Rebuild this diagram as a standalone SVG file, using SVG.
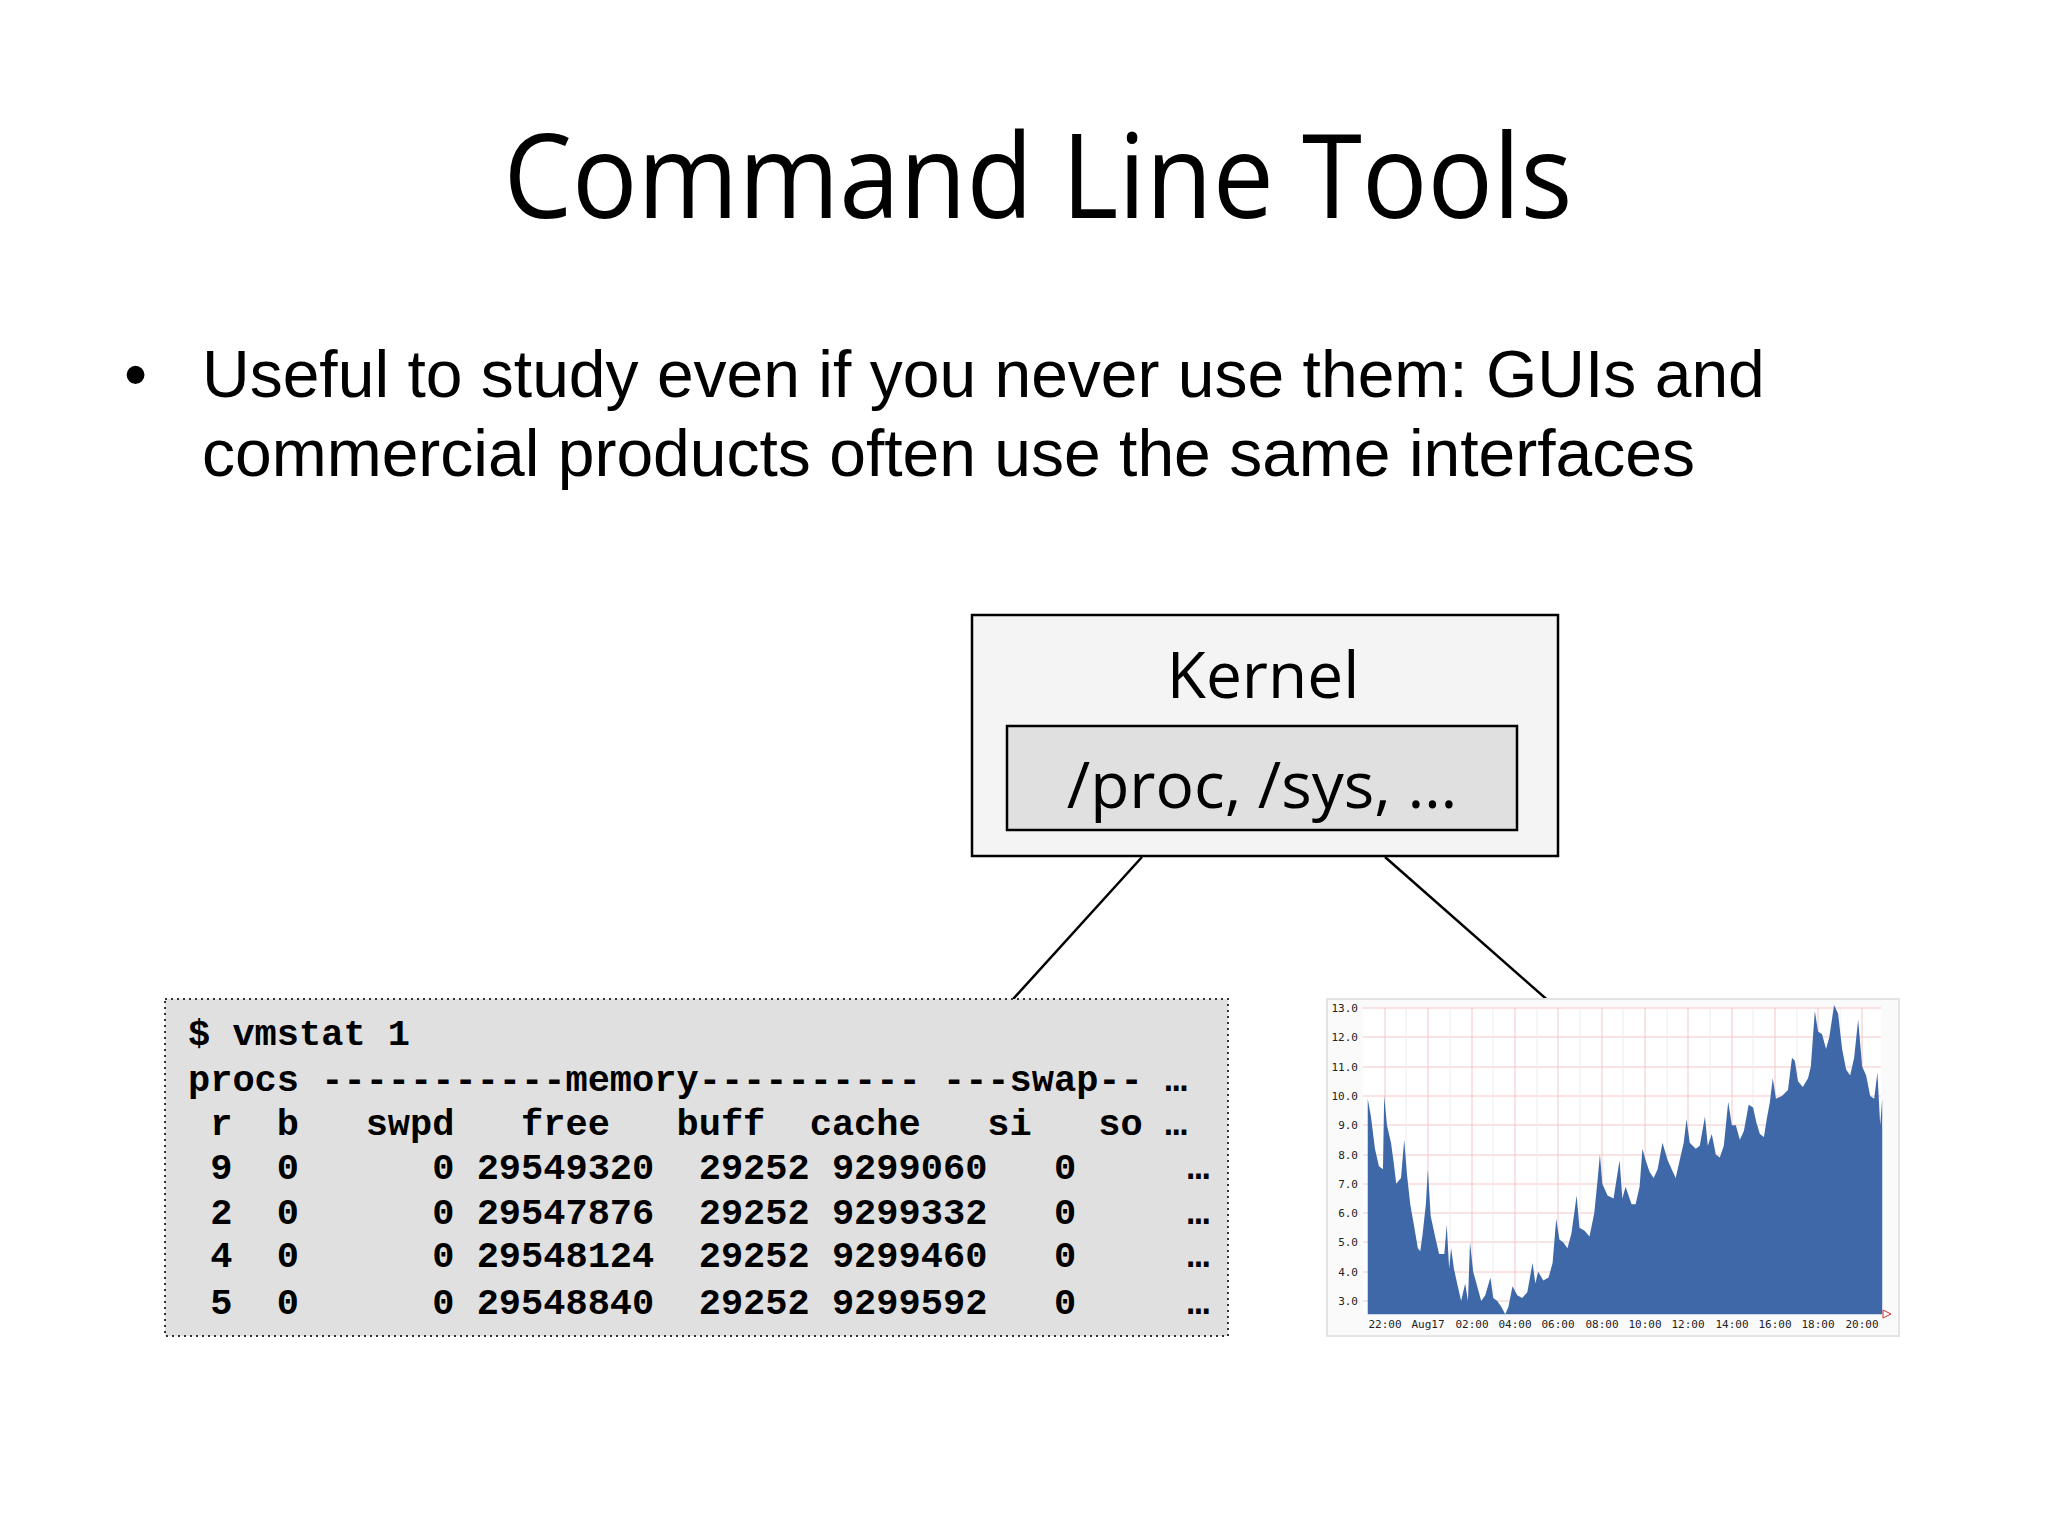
<svg xmlns="http://www.w3.org/2000/svg" width="2048" height="1536" viewBox="0 0 2048 1536">
<style>
.title{font-family:"Open Sans","Noto Sans",sans-serif;font-size:118px;fill:#000}
.body{font-family:"Liberation Sans",Arial,sans-serif;font-size:66px;fill:#000}
.kern{font-family:"Open Sans","Noto Sans",sans-serif;font-size:64px;fill:#000;text-anchor:middle}
.mono{font-family:"Liberation Mono","Courier New",monospace;font-weight:bold;font-size:37px;fill:#000;white-space:pre}
.ax{font-family:"DejaVu Sans Mono",monospace;font-size:11px;fill:#222}
.conn{stroke:#000;stroke-width:2.5;fill:none}
</style>
<defs>
<marker id="ah" viewBox="0 0 20 20" refX="18" refY="10" markerWidth="20" markerHeight="20" markerUnits="userSpaceOnUse" orient="auto"><path d="M2,2 L18,10 L2,18" fill="none" stroke="#000" stroke-width="3"/></marker>
</defs>
<rect width="2048" height="1536" fill="#fff"/>
<text class="title" x="1038" y="218" text-anchor="middle" textLength="1069" lengthAdjust="spacingAndGlyphs">Command Line Tools</text>
<text class="body" x="124" y="397">•</text>
<text class="body" x="202" y="397">Useful to study even if you never use them: GUIs and</text>
<text class="body" x="202" y="476">commercial products often use the same interfaces</text>
<g id="kernel">
<rect x="972" y="615" width="586" height="241" fill="#f4f4f4" stroke="#000" stroke-width="2.5"/>
<text class="kern" x="1263" y="698">Kernel</text>
</g>
<g id="proc">
<rect x="1007" y="726" width="510" height="104" fill="#e0e0e0" stroke="#000" stroke-width="2.5"/>
<text class="kern" x="1262" y="808">/proc, /sys, …</text>
</g>
<g id="connectors">
<line class="conn" x1="1142" y1="857" x2="976" y2="1040" marker-end="url(#ah)"/>
<line class="conn" x1="1385" y1="857" x2="1593" y2="1040" marker-end="url(#ah)"/>
</g>
<g id="vmstat">
<rect x="165" y="999" width="1063" height="337" fill="#e0e0e0" stroke="#333" stroke-width="2" stroke-dasharray="2,4"/>
<text class="mono" x="188" y="1045" xml:space="preserve">$ vmstat 1</text>
<text class="mono" x="188" y="1091" xml:space="preserve">procs -----------memory---------- ---swap-- …</text>
<text class="mono" x="188" y="1135" xml:space="preserve"> r  b   swpd   free   buff  cache   si   so …</text>
<text class="mono" x="188" y="1179" xml:space="preserve"> 9  0      0 29549320  29252 9299060   0     …</text>
<text class="mono" x="188" y="1224" xml:space="preserve"> 2  0      0 29547876  29252 9299332   0     …</text>
<text class="mono" x="188" y="1267" xml:space="preserve"> 4  0      0 29548124  29252 9299460   0     …</text>
<text class="mono" x="188" y="1314" xml:space="preserve"> 5  0      0 29548840  29252 9299592   0     …</text>
</g>
<g id="chart">
<rect x="1327" y="999" width="572" height="337" fill="#fafafa" stroke="#e4e4e4" stroke-width="2"/>
<rect x="1363" y="1008" width="518" height="306" fill="#fff"/>
<g stroke="#f3c6c6" stroke-width="1">
<line x1="1363" y1="1008" x2="1881" y2="1008"/><line x1="1363" y1="1037" x2="1881" y2="1037"/><line x1="1363" y1="1067" x2="1881" y2="1067"/><line x1="1363" y1="1096" x2="1881" y2="1096"/><line x1="1363" y1="1125" x2="1881" y2="1125"/><line x1="1363" y1="1155" x2="1881" y2="1155"/><line x1="1363" y1="1184" x2="1881" y2="1184"/><line x1="1363" y1="1213" x2="1881" y2="1213"/><line x1="1363" y1="1242" x2="1881" y2="1242"/><line x1="1363" y1="1272" x2="1881" y2="1272"/><line x1="1363" y1="1301" x2="1881" y2="1301"/>
<line x1="1385" y1="1008" x2="1385" y2="1314"/><line x1="1428" y1="1008" x2="1428" y2="1314"/><line x1="1472" y1="1008" x2="1472" y2="1314"/><line x1="1515" y1="1008" x2="1515" y2="1314"/><line x1="1558" y1="1008" x2="1558" y2="1314"/><line x1="1602" y1="1008" x2="1602" y2="1314"/><line x1="1645" y1="1008" x2="1645" y2="1314"/><line x1="1688" y1="1008" x2="1688" y2="1314"/><line x1="1732" y1="1008" x2="1732" y2="1314"/><line x1="1775" y1="1008" x2="1775" y2="1314"/><line x1="1818" y1="1008" x2="1818" y2="1314"/><line x1="1862" y1="1008" x2="1862" y2="1314"/>
</g>
<g stroke="#ececec" stroke-width="1">
<line x1="1406" y1="1008" x2="1406" y2="1314"/><line x1="1450" y1="1008" x2="1450" y2="1314"/><line x1="1493" y1="1008" x2="1493" y2="1314"/><line x1="1537" y1="1008" x2="1537" y2="1314"/><line x1="1580" y1="1008" x2="1580" y2="1314"/><line x1="1623" y1="1008" x2="1623" y2="1314"/><line x1="1667" y1="1008" x2="1667" y2="1314"/><line x1="1710" y1="1008" x2="1710" y2="1314"/><line x1="1753" y1="1008" x2="1753" y2="1314"/><line x1="1797" y1="1008" x2="1797" y2="1314"/><line x1="1840" y1="1008" x2="1840" y2="1314"/>
</g>
<polygon fill="#3f68a8" transform="matrix(0.401 0 0 -29.3 1316.8 1388.9)" points="127,2.55 127,9.9 135,9.3 145,8.2 155,7.6 165,7.5 168,10.0 175,9.0 185,8.4 192,7.7 198,7.0 210,7.2 218,8.5 225,7.3 233,6.3 242,5.6 252,4.8 258,4.7 264,5.3 272,6.3 277,7.5 284,5.9 295,5.2 305,4.6 318,4.6 324,5.6 330,4.1 335,4.8 342,4.1 350,3.6 360,3.0 370,3.6 377,3.0 382,5.0 390,4.0 400,3.5 410,3.0 420,3.2 433,3.8 440,3.1 450,3.0 460,2.8 470,2.55 478,2.8 488,3.5 500,3.2 512,3.1 525,3.3 538,4.3 545,3.6 552,4.0 565,3.7 578,3.8 588,4.3 597,5.8 605,5.1 615,5.0 625,4.8 635,5.3 648,6.6 655,5.5 668,5.4 680,5.2 692,6.0 700,7.1 706,8.0 712,7.0 725,6.6 740,6.5 755,7.8 762,6.5 770,6.9 785,6.3 795,6.3 805,6.9 812,8.2 820,7.8 830,7.4 840,7.2 850,7.5 862,8.4 875,7.8 885,7.5 895,7.2 905,7.8 915,8.4 922,9.2 930,8.4 945,8.2 955,8.3 968,9.3 975,8.3 985,8.7 995,8.0 1005,7.9 1015,8.3 1026,9.8 1035,9.0 1045,9.0 1055,8.5 1065,8.8 1077,9.7 1088,9.6 1096,9.1 1105,8.7 1115,8.6 1122,9.2 1130,9.8 1137,10.6 1145,9.9 1160,10.0 1175,10.2 1185,11.3 1192,11.2 1200,10.5 1212,10.3 1225,10.6 1232,11.0 1242,12.9 1250,12.2 1260,12.1 1270,11.6 1278,12.0 1290,13.1 1300,12.8 1310,11.6 1320,10.9 1330,10.7 1340,11.3 1350,12.6 1360,11.0 1370,10.7 1380,10.0 1390,9.9 1398,10.8 1405,9.0 1410,9.9 1410,2.55"/>
<path d="M1883,1310 l8,4 l-8,4 z" fill="none" stroke="#c33" stroke-width="1"/>
<g class="ax" text-anchor="end">
<text x="1358" y="1012">13.0</text><text x="1358" y="1041">12.0</text><text x="1358" y="1071">11.0</text><text x="1358" y="1100">10.0</text><text x="1358" y="1129">9.0</text><text x="1358" y="1159">8.0</text><text x="1358" y="1188">7.0</text><text x="1358" y="1217">6.0</text><text x="1358" y="1246">5.0</text><text x="1358" y="1276">4.0</text><text x="1358" y="1305">3.0</text>
</g>
<g class="ax" text-anchor="middle">
<text x="1385" y="1328">22:00</text><text x="1428" y="1328">Aug17</text><text x="1472" y="1328">02:00</text><text x="1515" y="1328">04:00</text><text x="1558" y="1328">06:00</text><text x="1602" y="1328">08:00</text><text x="1645" y="1328">10:00</text><text x="1688" y="1328">12:00</text><text x="1732" y="1328">14:00</text><text x="1775" y="1328">16:00</text><text x="1818" y="1328">18:00</text><text x="1862" y="1328">20:00</text>
</g>
</g>
</svg>
